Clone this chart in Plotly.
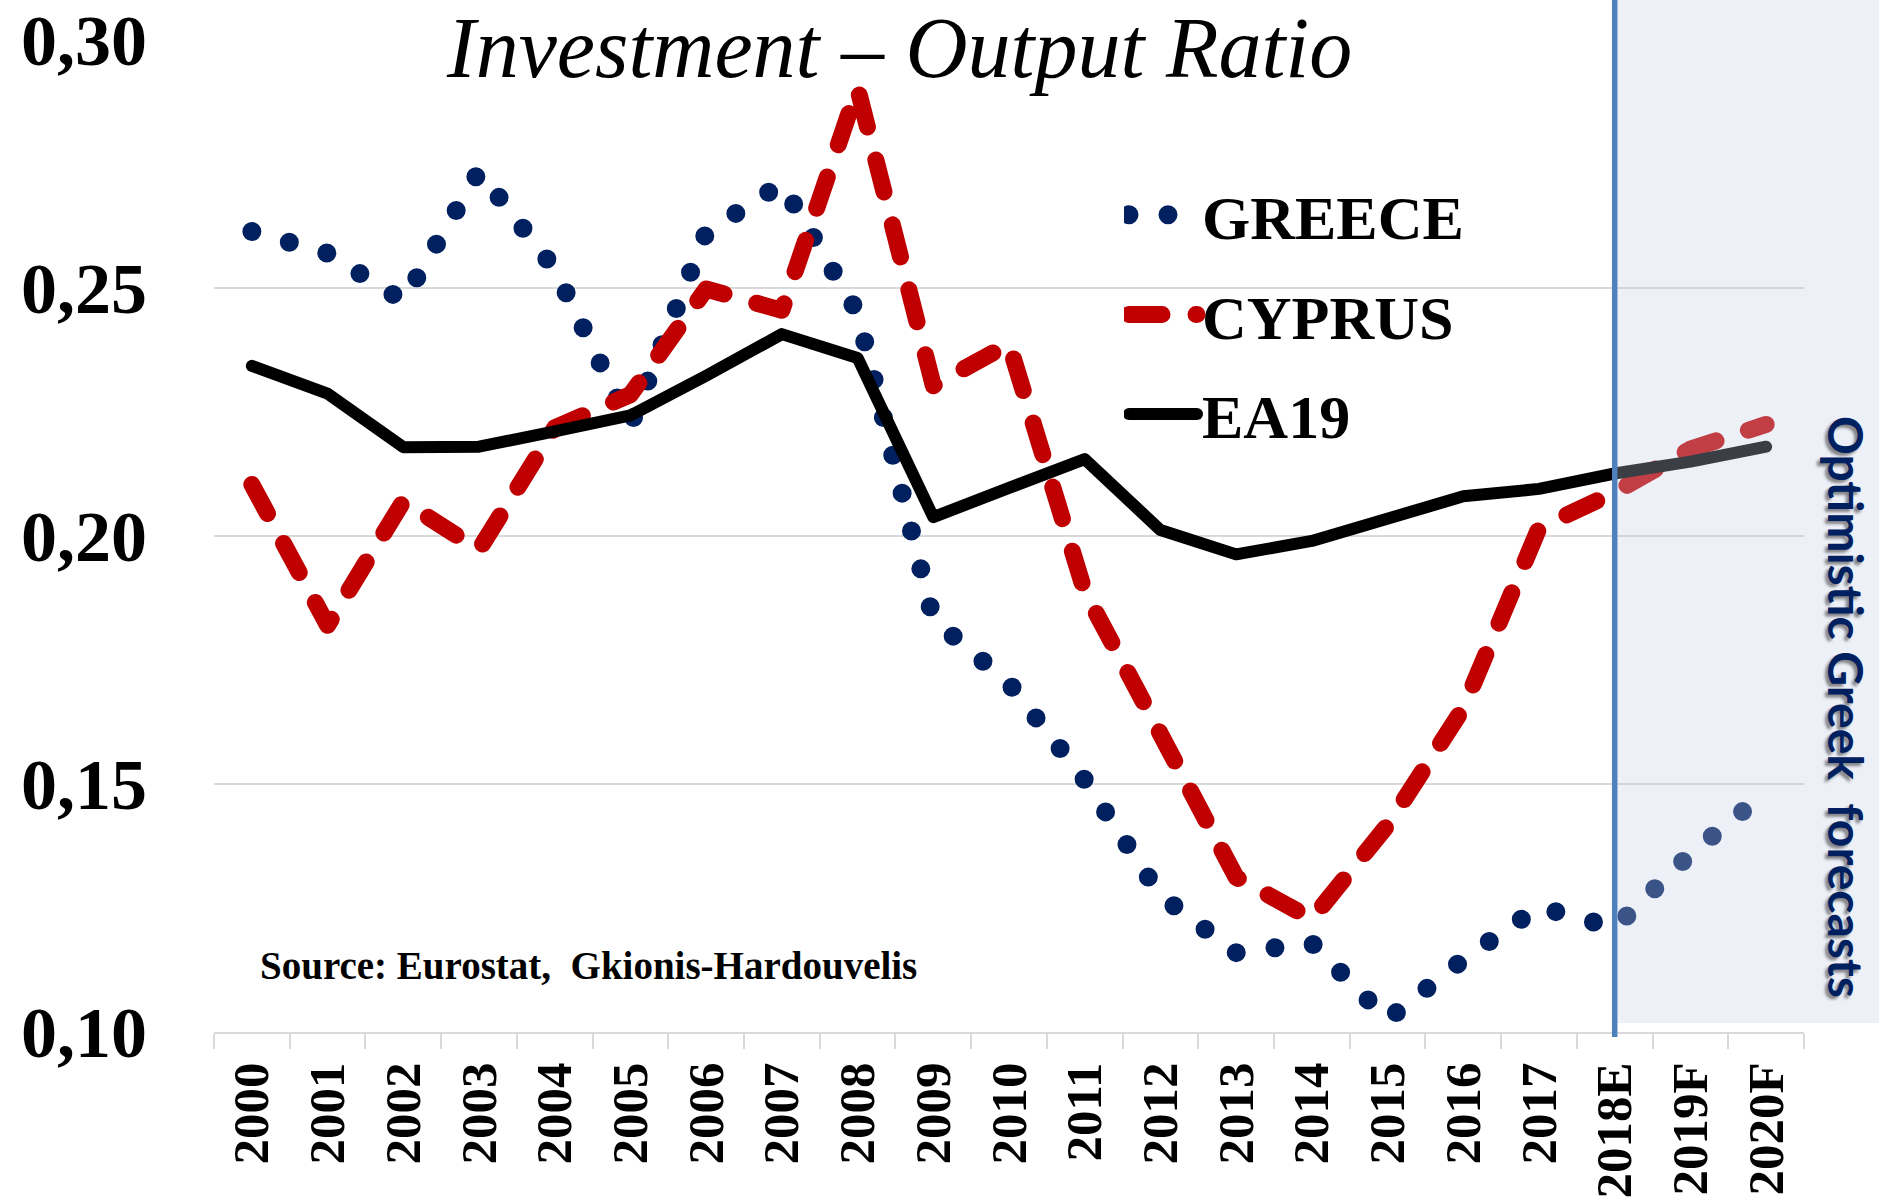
import plotly.graph_objects as go

# ---- data -------------------------------------------------------------
years = ['2000', '2001', '2002', '2003', '2004', '2005', '2006', '2007', '2008',
         '2009', '2010', '2011', '2012', '2013', '2014', '2015', '2016', '2017',
         '2018E', '2019F', '2020F']

greece = [0.2614, 0.2570, 0.2474, 0.2735, 0.2538, 0.2223, 0.2612, 0.2710, 0.2450,
          0.1832, 0.1703, 0.1508, 0.1275, 0.1160, 0.1179, 0.1025, 0.1146, 0.1252,
          0.1210, 0.1359, 0.1483]

cyprus = [0.2104, 0.1820, 0.2070, 0.1972, 0.2218, 0.2285, 0.2498, 0.2455, 0.2903,
          0.2303, 0.2387, 0.1888, 0.1601, 0.1312, 0.1228, 0.1417, 0.1653, 0.2016,
          0.2088, 0.2175, 0.2225]

ea19 = [0.2343, 0.2287, 0.2179, 0.2180, 0.2211, 0.2243, 0.2323, 0.2407, 0.2359,
        0.2038, 0.2097, 0.2155, 0.2012, 0.1963, 0.1990, 0.2038, 0.2080, 0.2095,
        0.2126, 0.2150, 0.2180]

series_names = ['GREECE', 'CYPRUS', 'EA19']
y_ticks = [0.10, 0.15, 0.20, 0.25, 0.30]
forecast_start = '2018E'

title_text = 'Investment – Output Ratio'
source_text = 'Source: Eurostat,\u00a0\u00a0Gkionis-Hardouvelis'
forecast_text = 'Optimistic Greek\u00a0\u00a0forecasts'

# ---- layout constants --------------------------------------------------
W, H = 1879, 1204
ML, MR, MT, MB = 214, 75, 40, 172
PW, PH = W - ML - MR, H - MT - MB

def px_x(x):  # page pixel -> paper x
    return (x - ML) / PW

def px_y(y):  # page pixel -> paper y
    return (H - MB - y) / PH

SERIF = 'Liberation Serif'
widths = [19, 17, 12]

fig = go.Figure()

fig.add_trace(go.Scatter(
    x=years, y=greece, name=series_names[0], mode='lines', legendgroup='g',
    line=dict(color='#002060', width=widths[0], dash='0px,39px')))
fig.add_trace(go.Scatter(
    x=years, y=cyprus, name=series_names[1], mode='lines', legendgroup='c',
    line=dict(color='#C00000', width=widths[1], dash='33px,34px')))
fig.add_trace(go.Scatter(
    x=years, y=ea19, name=series_names[2], mode='lines', legendgroup='e',
    line=dict(color='#000000', width=widths[2])))

# forecast shading (semi-transparent, above the lines) and divider line
fc_paper = (years.index(forecast_start) + 0.5) / len(years)
fig.add_shape(type='rect', xref='paper', yref='paper',
              x0=fc_paper, x1=px_x(W + 5),
              y0=px_y(1023), y1=px_y(-5),
              fillcolor='rgba(195,205,228,0.30)', line=dict(width=0), layer='above')
fig.add_shape(type='line', xref='x', yref='paper',
              x0=forecast_start, x1=forecast_start,
              y0=px_y(1037), y1=px_y(-5),
              line=dict(color='#4F81BD', width=5.5), layer='above')

fig.add_annotation(text=title_text, xref='paper', yref='paper',
                   x=px_x(899), y=px_y(48), xanchor='center', yanchor='middle',
                   showarrow=False,
                   font=dict(family=SERIF, size=86, style='italic', color='black'))
fig.add_annotation(text=source_text, xref='paper', yref='paper',
                   x=px_x(258), y=px_y(965), xanchor='left', yanchor='middle',
                   showarrow=False,
                   font=dict(family=SERIF, size=39, weight='bold', color='black'))
fig.add_annotation(text=forecast_text, xref='paper', yref='paper',
                   x=px_x(1847), y=px_y(707), xanchor='center', yanchor='middle',
                   textangle=90, showarrow=False, borderpad=0, borderwidth=0,
                   font=dict(family='Lato', size=48, weight='bold', color='#002060',
                             shadow='3px 3px 3px rgba(0,0,0,0.45)'))

fig.update_layout(
    width=W, height=H,
    margin=dict(l=ML, r=MR, t=MT, b=MB, autoexpand=False),
    paper_bgcolor='white', plot_bgcolor='white',
    separators=', ',
    showlegend=True,
    legend=dict(x=px_x(1124), y=px_y(168), xanchor='left', yanchor='top',
                bgcolor='rgba(0,0,0,0)', borderwidth=0,
                itemwidth=68, tracegroupgap=16,
                font=dict(family=SERIF, size=62, weight='bold', color='black')),
    xaxis=dict(type='category', range=[-0.5, len(years) - 0.5],
               tickson='boundaries', ticks='outside', ticklen=15, tickwidth=2,
               tickcolor='#D9D9D9', showline=True, linecolor='#D9D9D9', linewidth=2,
               showgrid=False, tickangle=-90, ticklabelstandoff=8,
               tickfont=dict(family=SERIF, size=51, weight='bold', color='black')),
    yaxis=dict(range=[0.10, 0.30], tickvals=y_ticks, tickformat='.2f',
               showgrid=True, gridcolor='#D9D9D9', gridwidth=2,
               zeroline=False, showline=False, ticks='', ticklabelstandoff=66,
               tickfont=dict(family=SERIF, size=72, weight='bold', color='black')),
)

post = """
var st = document.createElement('style');
st.textContent = 'body{margin:0;overflow:hidden;} .js-line{stroke-linecap:round;stroke-linejoin:round;}';
document.head.appendChild(st);
var gd = document.getElementById('{plot_id}');
var lw = %s;
gd.querySelectorAll('.legend .traces').forEach(function(t, i) {
  t.querySelectorAll('.js-line').forEach(function(p) { p.style.strokeWidth = lw[i] + 'px'; });
});
""" % str(widths)
fig.write_html("out.html", post_script=post, config={'displayModeBar': False})
